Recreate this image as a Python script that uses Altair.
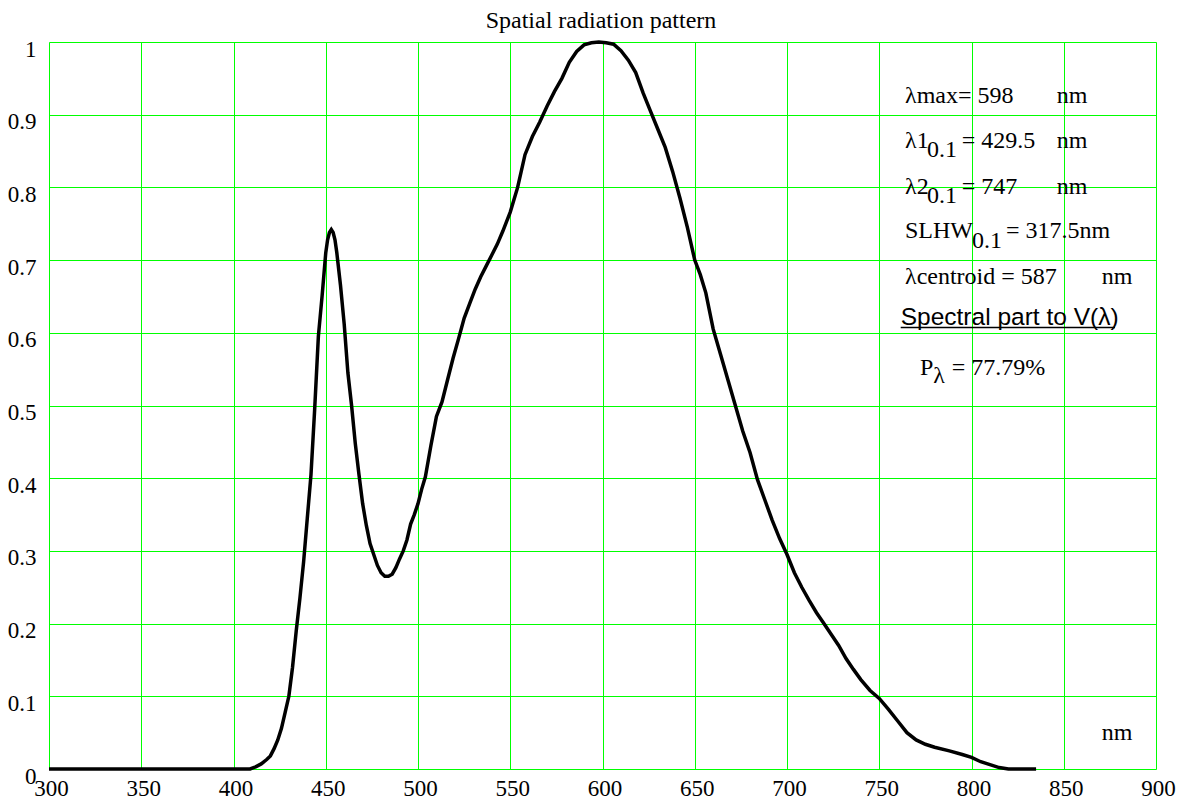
import altair as alt
import pandas as pd

wavelength = [300, 350, 390, 398, 405, 409, 412, 415, 418, 420, 422, 424, 426, 428, 430,
              432, 434, 436, 438, 440, 442, 444, 446, 448, 450, 451, 452, 453, 454, 455,
              456, 458, 460, 462, 464, 466, 468, 470, 472, 474, 476, 478, 480, 482, 484,
              486, 488, 490, 492, 494, 496, 498, 500, 502, 504, 507, 510, 513, 516, 519,
              522, 525, 528, 531, 534, 537, 540, 543, 546, 550, 554, 558, 562, 566, 570,
              574, 578, 582, 586, 590, 594, 598, 602, 606, 610, 614, 618, 622, 626, 630,
              634, 638, 642, 646, 650, 653, 656, 660, 664, 668, 672, 676, 680, 684, 688,
              692, 696, 700, 704, 708, 712, 716, 720, 724, 728, 732, 736, 740, 745, 750,
              755, 760, 765, 770, 775, 780, 788, 795, 800, 805, 810, 815, 820, 835]
intensity = [0, 0, 0, 0, 0, 0.0, 0.003, 0.007, 0.013, 0.018, 0.028, 0.04, 0.056, 0.078, 0.1,
             0.14, 0.19, 0.235, 0.285, 0.345, 0.405, 0.495, 0.595, 0.65, 0.71, 0.728, 0.738, 0.742, 0.738, 0.728,
             0.71, 0.665, 0.612, 0.545, 0.5, 0.448, 0.405, 0.365, 0.335, 0.31, 0.295, 0.28, 0.27, 0.265, 0.265,
             0.268, 0.277, 0.289, 0.3, 0.315, 0.337, 0.35, 0.365, 0.385, 0.402, 0.445, 0.485, 0.505, 0.535, 0.565,
             0.592, 0.62, 0.64, 0.66, 0.677, 0.692, 0.707, 0.722, 0.74, 0.766, 0.8, 0.845, 0.87, 0.89, 0.912,
             0.932, 0.95, 0.972, 0.987, 0.996, 0.999, 1.0, 0.999, 0.997, 0.988, 0.975, 0.958, 0.93, 0.905, 0.88,
             0.855, 0.822, 0.785, 0.745, 0.7, 0.68, 0.655, 0.605, 0.57, 0.535, 0.5, 0.465, 0.435, 0.398, 0.37,
             0.342, 0.317, 0.295, 0.27, 0.25, 0.232, 0.215, 0.2, 0.185, 0.17, 0.152, 0.137, 0.123, 0.108, 0.097,
             0.082, 0.066, 0.05, 0.04, 0.034, 0.03, 0.025, 0.02, 0.016, 0.01, 0.006, 0.002, 0.0, 0.0]

x_ticks = list(range(300, 901, 50))
y_ticks = [round(i * 0.1, 1) for i in range(11)]

title_text = "Spatial radiation pattern"
x_unit = "nm"

df = pd.DataFrame({"wavelength": wavelength, "intensity": intensity})

SERIF = "Liberation Serif"
TICK_FS = 23
FS = 24

x_enc = alt.X("wavelength:Q",
              scale=alt.Scale(domain=[300, 900], nice=False, zero=False),
              axis=alt.Axis(values=x_ticks, title=None, grid=True, gridColor="#00ff00",
                            gridWidth=1, gridOpacity=1, ticks=False, tickSize=0, domain=False,
                            labelFont=SERIF, labelFontSize=TICK_FS, labelColor="black",
                            labelBaseline="alphabetic", labelPadding=26, labelFlush=False,
                            labelOffset=2, labelOverlap=False))
y_enc = alt.Y("intensity:Q",
              scale=alt.Scale(domain=[0, 1], nice=False),
              axis=alt.Axis(values=y_ticks, title=None, grid=True, gridColor="#00ff00",
                            gridWidth=1, gridOpacity=1, ticks=False, tickSize=0, domain=False,
                            format="~g", labelFont=SERIF, labelFontSize=TICK_FS, labelColor="black",
                            labelBaseline="top", labelPadding=13, labelFlush=False,
                            labelOffset=-4, labelOverlap=False))

curve = alt.Chart(df).mark_line(color="black", strokeWidth=3.5, interpolate="linear").encode(
    x=x_enc, y=y_enc
)


def txt(s, x, y, size=FS, font=SERIF, align="left"):
    return alt.Chart(df).mark_text(text=s, font=font, fontSize=size, color="black",
                                   align=align, baseline="alphabetic").encode(
        x=alt.value(x), y=alt.value(y)
    ).transform_filter("datum.wavelength == 300")


texts = [
    txt(title_text, 552, -14, size=24, align="center"),
    txt("λmax= 598", 856, 61),
    txt("nm", 1007.7, 61),
    txt("λ1", 856, 106),
    txt("0.1", 878, 115.3),
    txt("= 429.5", 912.7, 106),
    txt("nm", 1007.7, 106),
    txt("λ2", 856, 152),
    txt("0.1", 878, 160.5),
    txt("= 747", 912.7, 152),
    txt("nm", 1007.7, 152),
    txt("SLHW", 856, 196),
    txt("0.1", 923, 205.7),
    txt("= 317.5nm", 957, 196),
    txt("λcentroid  = 587", 856, 242),
    txt("nm", 1052.7, 242),
    txt("Spectral part to V(λ)", 851.7, 283, size=24.5, font="Liberation Sans"),
    txt("P", 871, 333),
    txt("λ", 884.3, 341),
    txt("= 77.79%", 902.7, 333),
    txt(x_unit, 1052.7, 698),
]

underline = alt.Chart(df).mark_rule(color="black", strokeWidth=1.5).encode(
    x=alt.value(851.7), x2=alt.value(1066), y=alt.value(285.5)
).transform_filter("datum.wavelength == 300")

chart = alt.layer(curve, underline, *texts).properties(
    width=1107, height=727,
    autosize=alt.AutoSizeParams(type="none"),
    padding={"left": 41, "top": 34, "right": 28, "bottom": 31},
).configure_view(stroke="black", strokeWidth=2).configure(background="white")

chart.save("out.html", embed_options={"renderer": "svg", "actions": False})
